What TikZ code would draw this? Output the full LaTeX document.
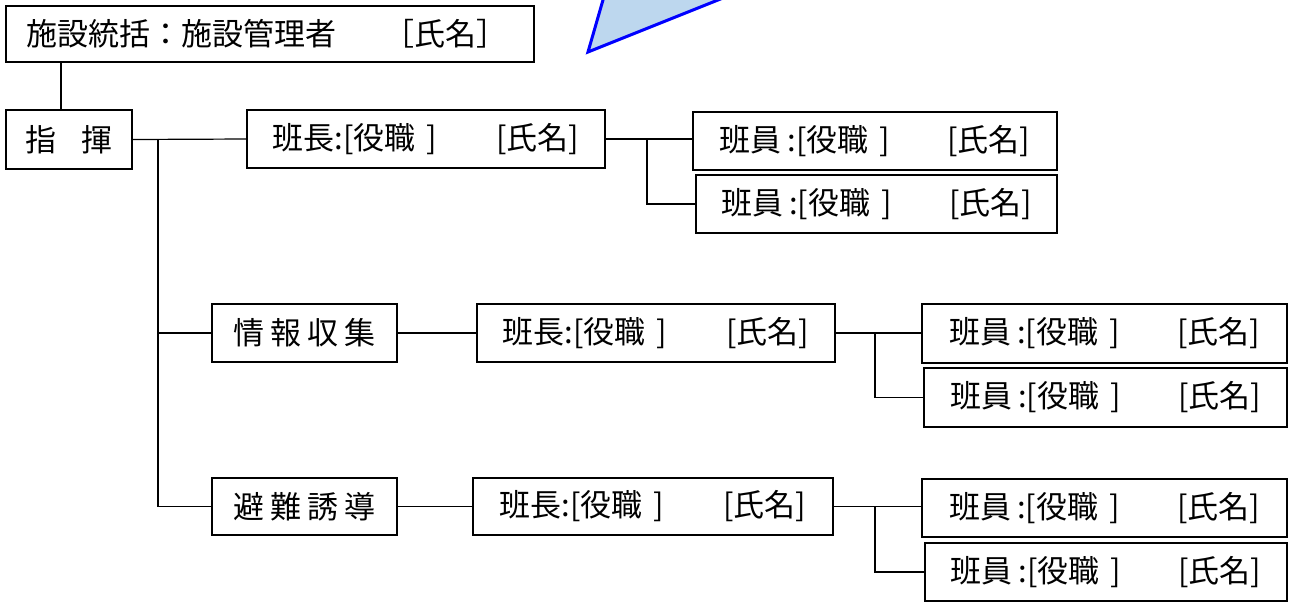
\documentclass[tikz,border=0pt]{standalone}
\usepackage{fontspec}
\newfontfamily\jp{Noto Sans CJK JP}
\definecolor{trifill}{HTML}{BDD7EE}
\definecolor{tristroke}{HTML}{0000FF}
\newcommand{\hcText}{班長:[役職\hspace{0.35em}]\hspace{1.9em}[氏名]}
\newcommand{\hiText}{班員\hspace{0.2em}:[役職\hspace{0.35em}]\hspace{1.85em}[氏名]}
\begin{document}
\begin{tikzpicture}[x=1pt,y=-1pt,
  box/.style={draw=black, line width=1.4pt, inner sep=0pt, anchor=center,
    font=\jp\fontsize{31}{33}\selectfont},
  conn/.style={draw=black, line width=1.2pt}]
\useasboundingbox (0,0) rectangle (1293,603);
% decorative triangle (clipped at the top edge)
\begin{scope}
\clip (0,0) rectangle (1293,603);
\filldraw[fill=trifill, draw=tristroke, line width=3pt, line join=miter]
  (607.3,-15) -- (588,52) -- (755.5,-15) -- cycle;
\end{scope}
% nodes
\node[box, minimum width=528pt, minimum height=56pt, text width=486pt, align=left] (top) at (270,34) {施設統括：施設管理者　\hspace{0.5em}［氏名］};
\node[box, minimum width=126pt, minimum height=59pt] (shiki) at (69,139.5) {指\hspace{0.8em}揮};
\node[box, minimum width=358pt, minimum height=58pt] (hc1) at (426,139) {\hcText};
\node[box, minimum width=364pt, minimum height=58pt] (m1a) at (875,141) {\hiText};
\node[box, minimum width=361pt, minimum height=58pt] (m1b) at (876.5,204) {\hiText};
\node[box, minimum width=185pt, minimum height=58pt] (joho) at (304.5,333) {情\hspace{0.2em}報\hspace{0.2em}収\hspace{0.2em}集};
\node[box, minimum width=358pt, minimum height=58pt] (hc2) at (656,333) {\hcText};
\node[box, minimum width=365pt, minimum height=59pt] (m2a) at (1104.5,333.5) {\hiText};
\node[box, minimum width=363pt, minimum height=59pt] (m2b) at (1105.5,397.5) {\hiText};
\node[box, minimum width=185pt, minimum height=57pt] (hinan) at (304.5,506.5) {避\hspace{0.2em}難\hspace{0.2em}誘\hspace{0.2em}導};
\node[box, minimum width=360pt, minimum height=57pt] (hc3) at (653,506.5) {\hcText};
\node[box, minimum width=365pt, minimum height=58pt] (m3a) at (1104.5,508) {\hiText};
\node[box, minimum width=362pt, minimum height=58pt] (m3b) at (1106,572) {\hiText};
% junction x positions
\coordinate (cx0) at (61,0);
\coordinate (trunk) at (158,0);
\coordinate (j1) at (647,0);
\coordinate (j2) at (875,0);
% connectors
\draw[conn] (top.south -| cx0) -- (shiki.north -| cx0);
\draw[conn] (shiki.east) -- (hc1.west);
\draw[conn] (shiki.east -| trunk) |- (joho.west);
\draw[conn] (shiki.east -| trunk) |- (hinan.west);
\draw[conn] (hc1.east) -- (hc1.east -| m1a.west);
\draw[conn] (hc1.east -| j1) |- (m1b.west);
\draw[conn] (joho.east) -- (hc2.west);
\draw[conn] (hc2.east) -- (hc2.east -| m2a.west);
\draw[conn] (hc2.east -| j2) |- (m2b.west);
\draw[conn] (hinan.east) -- (hc3.west);
\draw[conn] (hc3.east) -- (hc3.east -| m3a.west);
\draw[conn] (hc3.east -| j2) |- (m3b.west);
\end{tikzpicture}
\end{document}
